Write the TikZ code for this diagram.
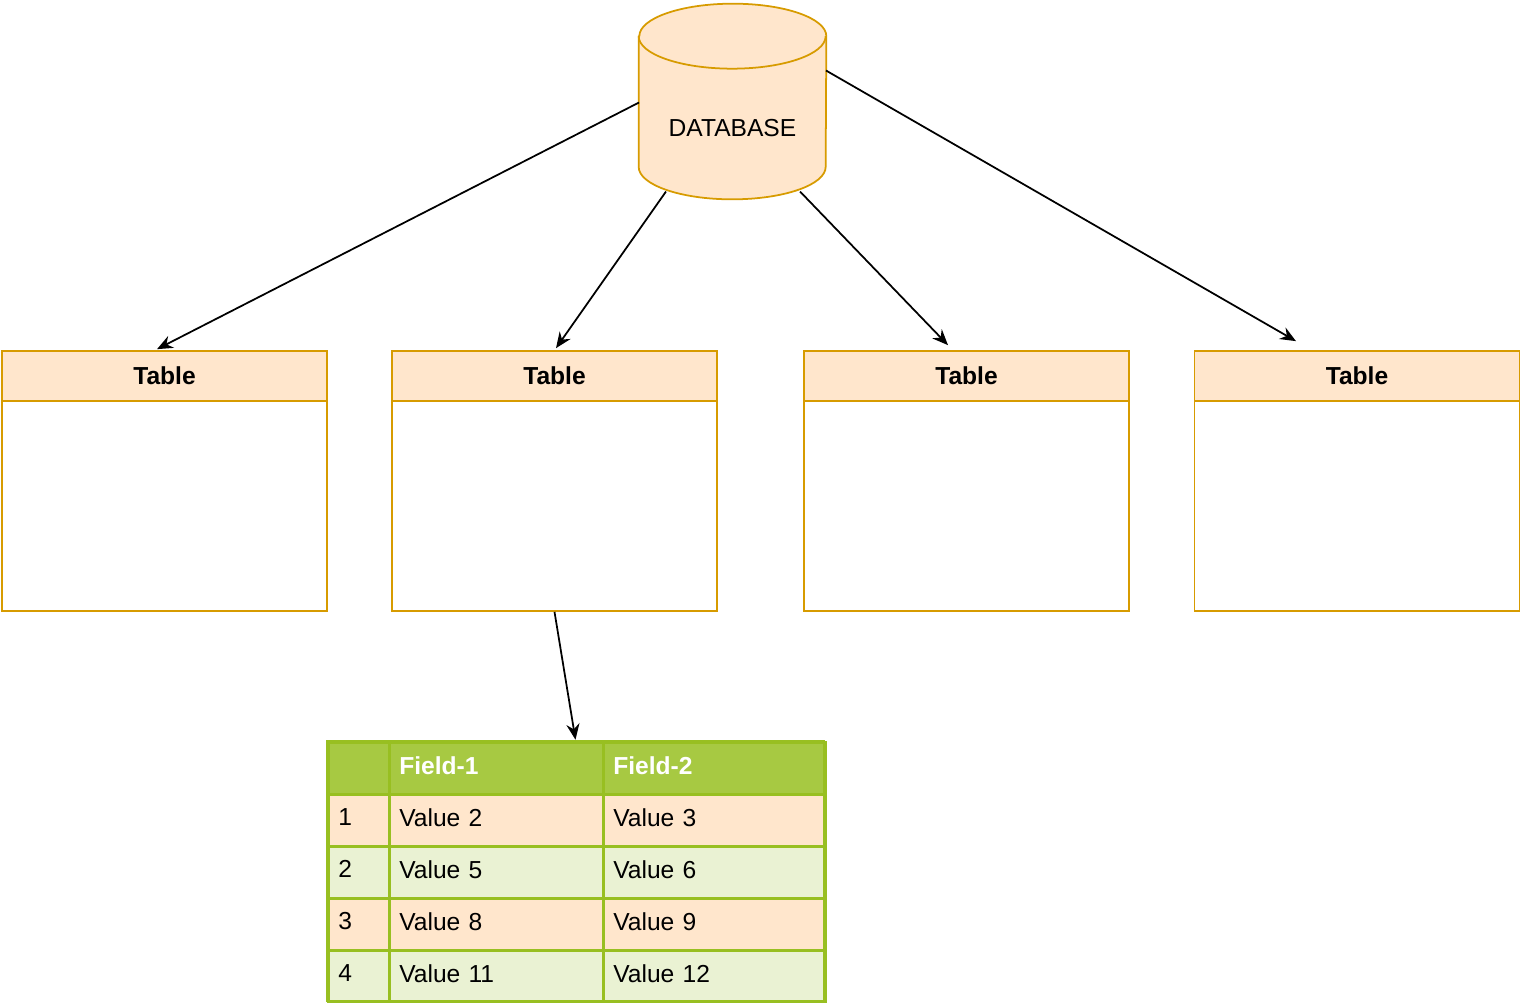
\documentclass[tikz,border=0pt]{standalone}
\usepackage{fontspec}
\setmainfont{Liberation Sans}
\usetikzlibrary{arrows.meta, positioning, calc}
\definecolor{lorange}{HTML}{FFE6CC}
\definecolor{dorange}{HTML}{D79B00}
\definecolor{tgreen}{HTML}{98BF21}
\definecolor{hgreen}{HTML}{A7C942}
\definecolor{lgreen}{HTML}{EAF2D3}
\newcommand{\dfont}{\fontsize{14}{17}\selectfont}
\tikzstyle{dbase} = [rectangle, minimum width=3.74cm, minimum height=3.9cm, inner sep=0pt]
\tikzstyle{dline} = [draw=dorange, line width=1pt, fill=lorange, line join=round]
\tikzstyle{tbox} = [rectangle, minimum width=6.5cm, minimum height=5.2cm, inner sep=0pt, draw=dorange, line width=1pt, fill=white]
\tikzstyle{thead} = [rectangle, minimum width=6.5cm, minimum height=1cm, inner sep=0pt, draw=dorange, line width=1pt, fill=lorange, font=\dfont\bfseries]
\tikzstyle{cell} = [rectangle, minimum height=1.04cm, inner xsep=0.2cm, inner ysep=0pt, text depth=3.5pt, align=left, anchor=north west, draw=tgreen, line width=1.5pt]
\tikzstyle{arrow} = [line width=1pt, -{Stealth[length=9pt, width=7.5pt, inset=3pt]}]

\begin{document}
\begin{tikzpicture}[x=0.02cm, y=-0.02cm, font=\dfont]
		\useasboundingbox (0,0) rectangle (1521,1002);
		% database cylinder
		\node (db) [dbase] at (732.5,101.5) {};
		\draw [dline] ($(db.north west)+(0,32.5)$) -- ($(db.south west)+(0,-32.5)$)
			arc [start angle=180, end angle=360, x radius=93.5, y radius=-32.5]
			-- ($(db.north east)+(0,32.5)$)
			arc [start angle=0, end angle=180, x radius=93.5, y radius=-32.5] -- cycle;
		\draw [dline, fill=none] ($(db.north west)+(0,32.5)$)
			arc [start angle=180, end angle=360, x radius=93.5, y radius=-32.5];
		\node (dbtext) at (732.5,128) {DATABASE};
		% the four tables
		\node (t1) [tbox] at (164.5,481) {};
		\node (t2) [tbox] at (554.5,481) {};
		\node (t3) [tbox] at (966.5,481) {};
		\node (t4) [tbox] at (1357,481) {};
		\node (h1) [thead, below=0pt of t1.north] {Table};
		\node (h2) [thead, below=0pt of t2.north] {Table};
		\node (h3) [thead, below=0pt of t3.north] {Table};
		\node (h4) [thead, below=0pt of t4.north] {Table};
		% field grid
		\node (c0a) [cell, fill=hgreen, text width=0.82cm] at (327,741) {};
		\node (c0b) [cell, fill=hgreen, text width=3.88cm, text=white, font=\dfont\bfseries] at (388,741) {Field-1};
		\node (c0c) [cell, fill=hgreen, text width=4.04cm, text=white, font=\dfont\bfseries] at (602,741) {Field-2};
		\foreach \r/\fc/\va/\vb in {1/lorange/Value 2/Value 3, 2/lgreen/Value 5/Value 6, 3/lorange/Value 8/Value 9, 4/lgreen/Value 11/Value 12}{
			\node (c\r a) [cell, fill=\fc, text width=0.82cm] at (327,{741+52*\r}) {\r};
			\node (c\r b) [cell, fill=\fc, text width=3.88cm] at (388,{741+52*\r}) {\va};
			\node (c\r c) [cell, fill=\fc, text width=4.04cm] at (602,{741+52*\r}) {\vb};
		}
		\node (grid) [rectangle, minimum width=9.94cm, minimum height=5.2cm, inner sep=0pt, draw=tgreen, line width=1.5pt] at (575.5,871) {};
		\draw [arrow] ($(db.center)+(-93.5,1)$) -- ($(t1.north)+(-7.5,-1)$);
		\draw [arrow] ($(db.center)+(-66.5,90)$) -- ($(t2.north)+(1.5,-2)$);
		\draw [arrow] ($(db.center)+(67.5,90)$) -- ($(t3.north)+(-18.5,-5)$);
		\draw [arrow] ($(db.center)+(93.5,-31)$) -- ($(t4.north)+(-61,-9)$);
		\draw [arrow] (t2.south) -- (grid.north);
	\end{tikzpicture}
\end{document}
